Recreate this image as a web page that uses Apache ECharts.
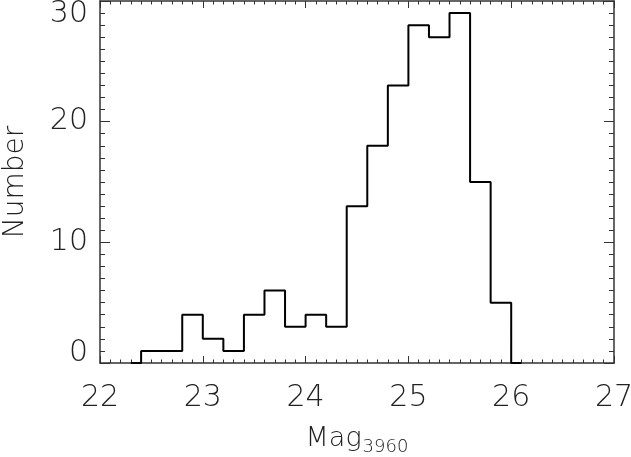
<!DOCTYPE html>
<html>
<head>
<meta charset="utf-8">
<script src="https://cdn.jsdelivr.net/npm/echarts@6/dist/echarts.min.js"></script>
<style>
  html, body { margin: 0; padding: 0; background: #fff; }
  #chart { width: 631px; height: 457px; }
</style>
</head>
<body>
<div id="chart"></div>
<script>
// histogram bin centres (mag) and counts
const binCenters = [22.3, 22.5, 22.7, 22.9, 23.1, 23.3, 23.5, 23.7, 23.9, 24.1, 24.3,
                    24.5, 24.7, 24.9, 25.1, 25.3, 25.5, 25.7, 25.9, 26.1];
const counts     = [0, 1, 1, 4, 2, 1, 4, 6, 3, 4, 3,
                    13, 18, 23, 28, 27, 29, 15, 5, 0];
const xTicks = [22, 23, 24, 25, 26, 27];
const yTicks = [0, 10, 20, 30];

const font = 'DejaVu Sans';
const ink = '#222';
const frame = { show: true, onZero: false, lineStyle: { color: '#333', width: 1.5 } };

const chart = echarts.init(document.getElementById('chart'));

function xAxisCfg(pos, showLabels) {
  return {
    type: 'value',
    position: pos,
    min: xTicks[0],
    max: xTicks[xTicks.length - 1],
    interval: 1,
    axisLine: frame,
    axisTick: { show: true, inside: true, length: 7, lineStyle: { color: '#333', width: 1 } },
    minorTick: { show: true, splitNumber: 10, length: 3.5, lineStyle: { color: '#333', width: 1 } },
    splitLine: { show: false },
    axisLabel: {
      show: showLabels, margin: 20, color: ink,
      fontFamily: font, fontWeight: 200, fontSize: 30
    }
  };
}

function yAxisCfg(pos, showLabels) {
  return {
    type: 'value',
    position: pos,
    min: yTicks[0],
    max: yTicks[yTicks.length - 1],
    interval: 10,
    axisLine: frame,
    axisTick: { show: true, inside: true, length: 10, lineStyle: { color: '#333', width: 1 } },
    minorTick: { show: true, splitNumber: 10, length: 5, lineStyle: { color: '#333', width: 1 } },
    splitLine: { show: false },
    axisLabel: {
      show: showLabels, margin: 12, color: ink,
      formatter: v => v === 0 ? '{lo|0}' : (v === 30 ? '{hi|30}' : '{n|' + v + '}'),
      rich: {
        n:  { fontFamily: font, fontWeight: 200, fontSize: 30, color: ink },
        lo: { fontFamily: font, fontWeight: 200, fontSize: 30, color: ink, padding: [0, 0, 20, 0] },
        hi: { fontFamily: font, fontWeight: 200, fontSize: 30, color: ink, padding: [26, 0, 0, 0] }
      }
    }
  };
}

const bottomX = xAxisCfg('bottom', true);
bottomX.name = '{a|Mag}{b|3960}';
bottomX.nameLocation = 'middle';
bottomX.nameGap = 62;
bottomX.nameTextStyle = {
  rich: {
    a: { fontFamily: font, fontWeight: 200, fontSize: 27, color: ink, verticalAlign: 'bottom' },
    b: { fontFamily: font, fontWeight: 200, fontSize: 18, color: ink, verticalAlign: 'bottom', padding: [0, 0, -4, 1] }
  }
};

const leftY = yAxisCfg('left', true);
leftY.name = 'Number';
leftY.nameLocation = 'middle';
leftY.nameGap = 70;
leftY.nameTextStyle = { fontFamily: font, fontWeight: 200, fontSize: 28, color: ink };

const option = {
  animation: false,
  backgroundColor: '#fff',
  grid: { left: 100, right: 17, top: 1, bottom: 94, containLabel: false, outerBoundsMode: 'none' },
  xAxis: [bottomX, xAxisCfg('top', false)],
  yAxis: [leftY, yAxisCfg('right', false)],
  series: [{
    type: 'line',
    step: 'middle',
    symbol: 'none',
    xAxisIndex: 0,
    yAxisIndex: 0,
    lineStyle: { color: '#000', width: 2 },
    data: binCenters.map((x, i) => [x, counts[i]])
  }]
};

chart.setOption(option);
</script>
</body>
</html>
